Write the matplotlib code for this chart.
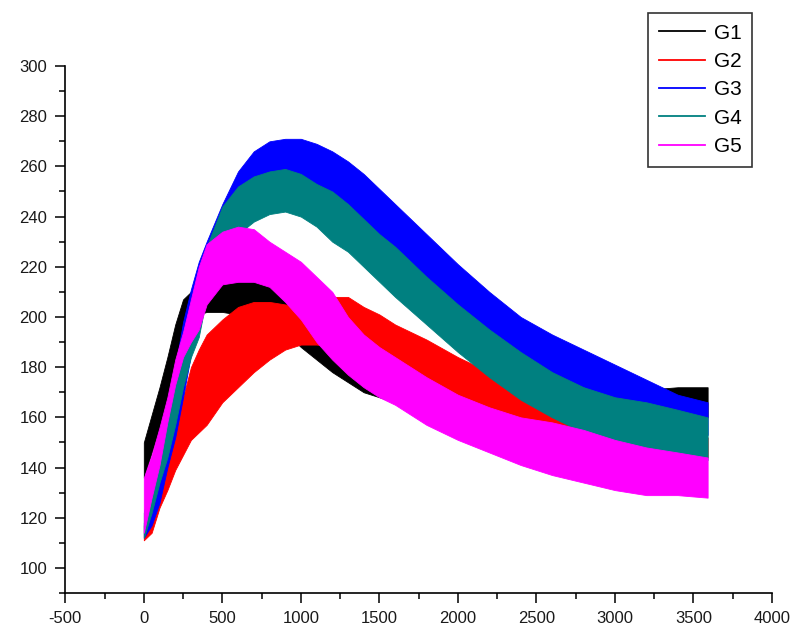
#
#   Imports
#

import matplotlib
matplotlib.use("Agg")
import matplotlib.pyplot as plt
from matplotlib.lines import Line2D
from matplotlib.ticker import MultipleLocator

#
#   Data (lower / upper edge of each noisy trace)
#

time_s = [0, 50, 100, 150, 200, 250, 300, 350, 400, 500, 600, 700, 800, 900,
          1000, 1100, 1200, 1300, 1400, 1500, 1600, 1800, 2000, 2200, 2400,
          2600, 2800, 3000, 3200, 3400, 3590]

g1_low = [136, 146, 155, 166, 180, 190, 199, 201, 202, 202, 201, 200, 198, 194,
          188, 183, 178, 174, 170, 168, 166, 163, 161, 160, 158, 158, 158, 158, 158, 159, 160]
g1_high = [150, 161, 172, 184, 197, 207, 210, 212, 213, 216, 217, 217, 215, 210,
           203, 197, 192, 188, 185, 183, 181, 177, 175, 173, 172, 171, 171, 171, 171, 172, 172]

g2_low = [111, 114, 124, 131, 139, 145, 151, 154, 157, 166, 172, 178, 183, 187,
          189, 189, 188, 186, 184, 181, 179, 174, 168, 163, 158, 153, 150, 148, 146, 145, 144]
g2_high = [117, 124, 131, 143, 155, 168, 180, 187, 193, 199, 204, 206, 206, 205,
           204, 206, 208, 208, 204, 201, 197, 191, 184, 178, 171, 164, 158, 155, 154, 153, 152]

g3_low = [112, 117, 126, 140, 152, 168, 185, 200, 210, 224, 236, 244, 250, 252,
          252, 250, 246, 242, 237, 232, 226, 214, 203, 192, 184, 177, 172, 167, 162, 157, 153]
g3_high = [118, 130, 145, 160, 180, 198, 211, 222, 230, 245, 258, 266, 270, 271,
           271, 269, 266, 262, 257, 251, 245, 233, 221, 210, 200, 193, 187, 181, 175, 169, 166]

g4_low = [112, 122, 134, 144, 157, 172, 184, 192, 208, 224, 233, 238, 241, 242,
          240, 236, 230, 226, 220, 214, 208, 197, 186, 176, 167, 160, 154, 149, 147, 145, 143]
g4_high = [122, 135, 150, 165, 178, 192, 205, 215, 228, 244, 252, 256, 258, 259,
           257, 253, 250, 245, 239, 233, 228, 216, 205, 195, 186, 178, 172, 168, 166, 163, 160]

g5_low = [114, 128, 141, 158, 173, 184, 190, 195, 205, 213, 214, 214, 212, 206,
          199, 190, 183, 177, 172, 168, 165, 157, 151, 146, 141, 137, 134, 131, 129, 129, 128]
g5_high = [136, 145, 156, 168, 183, 194, 207, 220, 229, 234, 236, 235, 230, 226,
           222, 216, 210, 200, 193, 188, 184, 176, 169, 164, 160, 158, 155, 151, 148, 146, 144]

labels = ["G1", "G2", "G3", "G4", "G5"]
colors = ["#000000", "#ff0000", "#0000ff", "#008080", "#ff00ff"]

#
#   Plot
#

plt.rcParams["font.family"] = ["Liberation Sans", "DejaVu Sans"]
plt.rcParams["axes.unicode_minus"] = False

fig = plt.figure(figsize=(7.95, 6.27), dpi=100)
ax = fig.add_axes([0.0821, 0.0542, 0.889, 0.8405])

# each trace drawn as the band its noise covers, G1 at the bottom, G5 on top
bands = [(g1_low, g1_high), (g2_low, g2_high), (g3_low, g3_high),
         (g4_low, g4_high), (g5_low, g5_high)]
for (low, high), c in zip(bands, colors):
    ax.fill_between(time_s, low, high, color=c, lw=0.6, edgecolor=c)

ax.set_xlim(-500, 4000)
ax.set_ylim(90, 300)
ax.xaxis.set_major_locator(MultipleLocator(500))
ax.xaxis.set_minor_locator(MultipleLocator(250))
ax.yaxis.set_minor_locator(MultipleLocator(10))
ax.set_yticks(range(100, 301, 20))

for s in ["top", "right"]:
    ax.spines[s].set_visible(False)
for s in ["left", "bottom"]:
    ax.spines[s].set_linewidth(1.2)

ax.tick_params(which="major", direction="out", length=7, width=1.1,
               labelsize=12, pad=6, labelcolor="#1a1a1a")
ax.tick_params(which="minor", direction="out", length=4, width=1.1)

handles = [Line2D([0], [0], color=c, lw=1.3) for c in colors]
leg = fig.legend(handles, labels, loc="upper right",
                 bbox_to_anchor=(0.946, 0.979), fontsize=15,
                 frameon=True, fancybox=False, edgecolor="black",
                 handlelength=2.2, handletextpad=0.45, labelspacing=0.45,
                 borderpad=0.5, borderaxespad=0)
leg.get_frame().set_linewidth(1.2)

plt.savefig("out.png", dpi=100)
